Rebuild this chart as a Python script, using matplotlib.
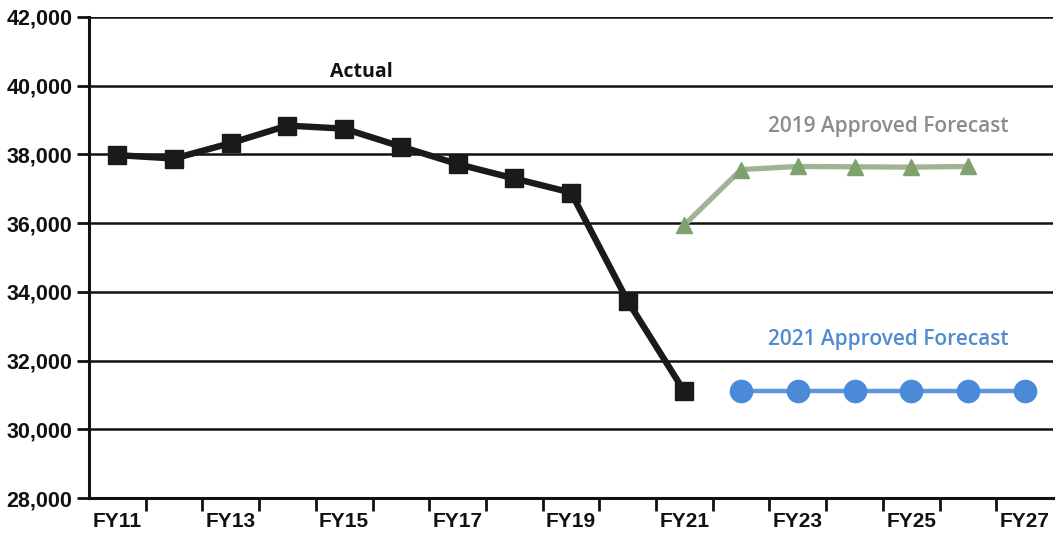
import matplotlib
matplotlib.use("Agg")
import matplotlib.pyplot as plt
from matplotlib.ticker import FuncFormatter, FixedLocator

# Fiscal-year categories and series values
fiscal_years = ["FY11", "FY12", "FY13", "FY14", "FY15", "FY16", "FY17", "FY18", "FY19",
                "FY20", "FY21", "FY22", "FY23", "FY24", "FY25", "FY26", "FY27"]
actual_years = ["FY11", "FY12", "FY13", "FY14", "FY15", "FY16", "FY17", "FY18", "FY19", "FY20", "FY21"]
actual_values = [37980, 37880, 38330, 38840, 38750, 38230, 37720, 37300, 36890, 33730, 31100]
forecast_2019_years = ["FY21", "FY22", "FY23", "FY24", "FY25", "FY26"]
forecast_2019_values = [35950, 37560, 37650, 37640, 37630, 37650]
forecast_2021_years = ["FY22", "FY23", "FY24", "FY25", "FY26", "FY27"]
forecast_2021_values = [31100, 31100, 31100, 31100, 31100, 31100]
y_ticks = [28000, 30000, 32000, 34000, 36000, 38000, 40000, 42000]

pos = {fy: i for i, fy in enumerate(fiscal_years)}

fig = plt.figure(figsize=(10.57, 5.41), dpi=100)
ax = fig.add_axes([89 / 1057, 43 / 541, (1053 - 89) / 1057, (498 - 17) / 541])

# horizontal gridlines
for v in y_ticks[1:]:
    ax.axhline(v, color="#111111", lw=1.8, zorder=1)

ax.plot([pos[f] for f in actual_years], actual_values, color="#1a1a1a", lw=4.6,
        marker="s", markersize=13, markerfacecolor="#1a1a1a", markeredgecolor="#1a1a1a",
        zorder=4, solid_joinstyle="miter")
ax.plot([pos[f] for f in forecast_2019_years], forecast_2019_values, color="#a2b394", lw=3.8,
        marker="^", markersize=12, markerfacecolor="#7fa16d", markeredgecolor="#7fa16d",
        zorder=3)
ax.plot([pos[f] for f in forecast_2021_years], forecast_2021_values, color="#5c97dc", lw=3.2,
        marker="o", markersize=16, markerfacecolor="#4a8ad8", markeredgecolor="#4a8ad8",
        zorder=3)

ax.set_xlim(-0.5, len(fiscal_years) - 0.5)
ax.set_ylim(28000, 42000)

ax.set_xticks(range(0, len(fiscal_years), 2))
ax.set_xticklabels(fiscal_years[::2])
ax.xaxis.set_minor_locator(FixedLocator([i + 0.5 for i in range(len(fiscal_years) - 1)]))
ax.tick_params(axis="x", which="major", length=0, pad=10)
ax.tick_params(axis="x", which="minor", length=9, width=2, color="#111111", direction="out")
ax.set_yticks(y_ticks)
ax.yaxis.set_major_formatter(FuncFormatter(lambda v, p: f"{int(v):,}"))
ax.tick_params(axis="y", length=9, width=2, color="#111111", pad=3)

for lab in ax.get_xticklabels() + ax.get_yticklabels():
    lab.set_fontfamily("Liberation Sans")
    lab.set_fontweight("bold")
    lab.set_color("#111111")
for lab in ax.get_xticklabels():
    lab.set_fontsize(15)
for lab in ax.get_yticklabels():
    lab.set_fontsize(15.5)

for side in ("top", "right"):
    ax.spines[side].set_visible(False)
for side in ("left", "bottom"):
    ax.spines[side].set_linewidth(2.2)
    ax.spines[side].set_color("#111111")

ax.text(pos["FY15"] + 0.3, 40400, "Actual", ha="center", va="center",
        fontfamily="Open Sans", fontweight="bold", fontsize=14, color="#111111")
ax.text(pos["FY24"] + 0.6, 38820, "2019 Approved Forecast", ha="center", va="center",
        fontfamily="Open Sans", fontweight="semibold", fontsize=15, color="#8c8c8c")
ax.text(pos["FY24"] + 0.6, 32620, "2021 Approved Forecast", ha="center", va="center",
        fontfamily="Open Sans", fontweight="semibold", fontsize=15, color="#4f8bd0")

fig.savefig("out.png", dpi=100, facecolor="white")
